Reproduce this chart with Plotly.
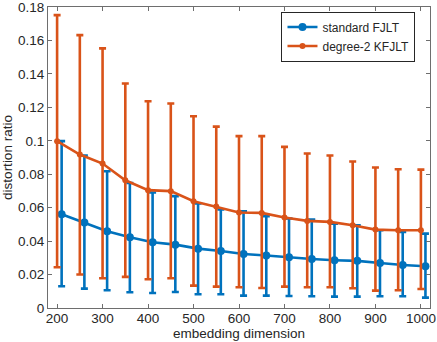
import plotly.graph_objects as go

dims = [200, 250, 300, 350, 400, 450, 500, 550, 600, 650, 700, 750, 800, 850, 900, 950, 1000]
dims_fjlt = [d + 10 for d in dims]

fjlt_mean = [0.0561, 0.0511, 0.0459, 0.0423, 0.0393, 0.0379, 0.0355, 0.0341, 0.0323, 0.0314,
             0.0303, 0.0293, 0.0286, 0.0282, 0.0269, 0.0257, 0.0250]
fjlt_upper = [0.0998, 0.0912, 0.0818, 0.0748, 0.0691, 0.0669, 0.0625, 0.0589, 0.0579, 0.0549,
              0.0535, 0.0529, 0.0505, 0.0495, 0.0465, 0.0455, 0.0445]
fjlt_lower = [0.0130, 0.0116, 0.0106, 0.0094, 0.0090, 0.0096, 0.0082, 0.0082, 0.0074, 0.0074,
              0.0072, 0.0070, 0.0068, 0.0068, 0.0070, 0.0070, 0.0062]

kfjlt_mean = [0.0998, 0.0918, 0.0864, 0.0764, 0.0705, 0.0699, 0.0639, 0.0607, 0.0571, 0.0569,
              0.0541, 0.0521, 0.0515, 0.0495, 0.0469, 0.0465, 0.0465]
kfjlt_upper = [0.1752, 0.1632, 0.1553, 0.1343, 0.1237, 0.1223, 0.1147, 0.1085, 0.1028, 0.1028,
               0.0964, 0.0924, 0.0912, 0.0876, 0.0840, 0.0830, 0.0828]
kfjlt_lower = [0.0244, 0.0200, 0.0178, 0.0186, 0.0172, 0.0178, 0.0134, 0.0128, 0.0124, 0.0120,
               0.0128, 0.0124, 0.0124, 0.0118, 0.0104, 0.0106, 0.0114]

yticks = [0, 0.02, 0.04, 0.06, 0.08, 0.1, 0.12, 0.14, 0.16, 0.18]
ytick_text = ["0", "0.02", "0.04", "0.06", "0.08", "0.1", "0.12", "0.14", "0.16", "0.18"]
xticks = [200, 300, 400, 500, 600, 700, 800, 900, 1000]

BLUE = "#0072BD"
ORANGE = "#D95319"
FONT = "Liberation Sans, Arial, sans-serif"
TXT = "#262626"

fig = go.Figure()
fig.add_trace(go.Scatter(
    x=dims_fjlt, y=fjlt_mean, mode="lines+markers", name="standard FJLT",
    line=dict(color=BLUE, width=2.6),
    marker=dict(color=BLUE, size=8),
    error_y=dict(type="data", symmetric=False,
                 array=[u - m for u, m in zip(fjlt_upper, fjlt_mean)],
                 arrayminus=[m - l for m, l in zip(fjlt_mean, fjlt_lower)],
                 color=BLUE, thickness=2.6, width=3.5),
))
fig.add_trace(go.Scatter(
    x=dims, y=kfjlt_mean, mode="lines+markers", name="degree-2 KFJLT",
    line=dict(color=ORANGE, width=2.6),
    marker=dict(color=ORANGE, size=6),
    error_y=dict(type="data", symmetric=False,
                 array=[u - m for u, m in zip(kfjlt_upper, kfjlt_mean)],
                 arrayminus=[m - l for m, l in zip(kfjlt_mean, kfjlt_lower)],
                 color=ORANGE, thickness=2.6, width=3.5),
))

axis_common = dict(
    showline=True, linecolor="#6e6e6e", linewidth=1, mirror="ticks",
    ticks="inside", ticklen=4, tickcolor="#6e6e6e", tickwidth=1,
    showgrid=False, zeroline=False, automargin=False,
    ticklabeloverflow="allow",
    tickfont=dict(family=FONT, size=13.5, color=TXT),
)

fig.update_layout(
    width=437, height=342,
    margin=dict(l=48, r=7, t=7, b=34),
    paper_bgcolor="white", plot_bgcolor="white",
    font=dict(family=FONT, size=13.5, color=TXT),
    xaxis=dict(range=[180, 1020], tickvals=xticks, ticklabelstandoff=-2,
               title=dict(text="embedding dimension", standoff=2,
                          font=dict(size=13.5, color=TXT)),
               **axis_common),
    yaxis=dict(range=[0, 0.18005], tickvals=yticks, ticktext=ytick_text,
               title=dict(text="distortion ratio", standoff=2,
                          font=dict(size=13.5, color=TXT)),
               **axis_common),
    legend=dict(x=0.962, y=0.985, xanchor="right", yanchor="top",
                bgcolor="white", bordercolor=TXT, borderwidth=1,
                font=dict(family=FONT, size=12, color=TXT),
                tracegroupgap=0, itemwidth=30),
    showlegend=True,
)

fig.write_html("out.html", config={"displayModeBar": False},
               post_script="document.body.style.margin='0';document.body.style.overflow='hidden';")
